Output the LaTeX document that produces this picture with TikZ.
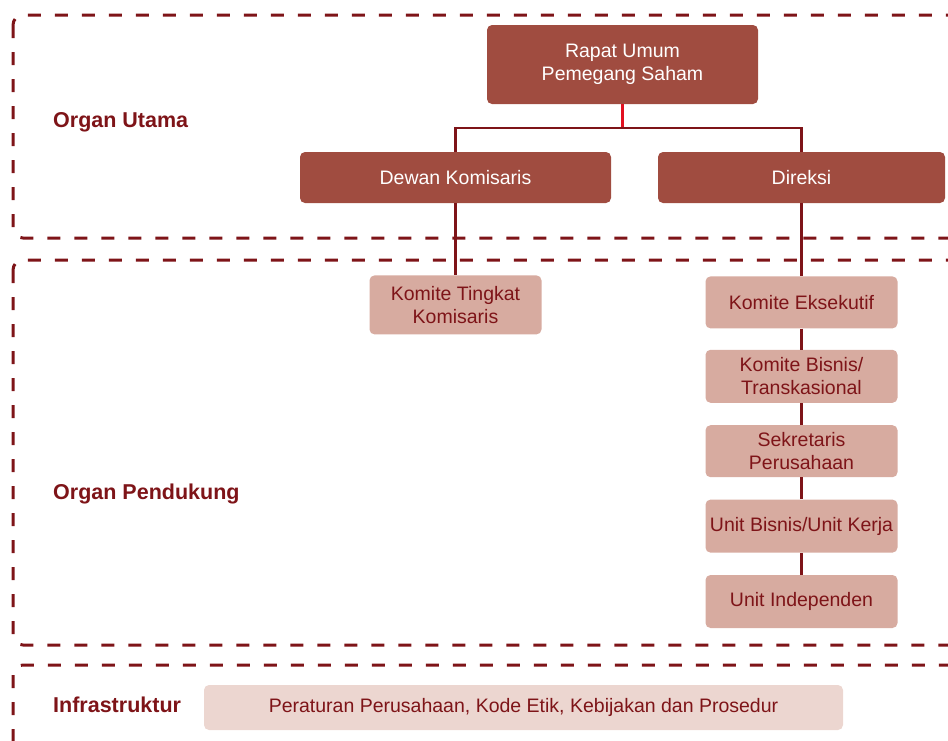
\documentclass[tikz,border=0pt]{standalone}
\usepackage{fontspec}
\setmainfont{Liberation Sans}
\usetikzlibrary{positioning}
\definecolor{orgdark}{RGB}{160,76,64}
\definecolor{orglight}{RGB}{215,171,160}
\definecolor{orgpale}{RGB}{236,214,208}
\definecolor{orgred}{RGB}{126,20,24}
\definecolor{linkred}{RGB}{226,16,32}
\tikzset{
  fig/.style={font=\fontsize{19.5}{23}\selectfont},
  mainbox/.style={fill=orgdark,text=white,rounded corners=5pt,minimum height=51pt,
                  align=center,inner sep=2pt},
  subbox/.style={fill=orglight,text=orgred,rounded corners=5pt,minimum width=192pt,
                 minimum height=53pt,align=center,inner sep=2pt},
  infbox/.style={fill=orgpale,text=orgred,rounded corners=5pt,minimum width=639pt,
                 minimum height=45pt,inner sep=2pt},
  grp/.style={draw=orgred,line width=3pt,dash pattern=on 13pt off 14pt,rounded corners=10pt},
  grplbl/.style={font=\fontsize{21.5}{25}\selectfont\bfseries,text=orgred,anchor=west,inner sep=0pt},
  ln/.style={draw=orgred,line width=2.2pt},
}

\begin{document}
\begin{tikzpicture}[fig,x=1pt,y=-1pt]
\clip (0,0) rectangle (948,740);

\draw[grp] (13,15) rectangle (990,238);
\draw[grp] (13,260) rectangle (990,645);
\draw[grp] (13,665) rectangle (990,790);

\node[grplbl] (lutama) at (53,122) {Organ Utama};
\node[grplbl] (lpend) at (53,494) {Organ Pendukung};
\node[grplbl] (linfra) at (53,705) {Infrastruktur};

\node[mainbox,minimum width=271pt,minimum height=79pt] (rups) at (622.5,64.5) {Rapat Umum\\Pemegang Saham};
\node[mainbox,minimum width=311pt] (dekom) at (455.5,177.5) {Dewan Komisaris};
\node[mainbox,minimum width=287pt] (direksi) at (801.5,177.5) {Direksi};

\node[subbox,minimum width=172pt,minimum height=59pt,below=72pt of dekom] (ktk) {Komite Tingkat\\Komisaris};
\node[subbox,minimum height=52pt,below=73pt of direksi] (kex) {Komite Eksekutif};
\node[subbox,below=21pt of kex] (kbt) {Komite Bisnis/\\Transkasional};
\node[subbox,minimum height=52pt,below=22pt of kbt] (sekper) {Sekretaris\\Perusahaan};
\node[subbox,below=22pt of sekper] (ubuk) {Unit Bisnis/Unit Kerja};
\node[subbox,below=22pt of ubuk] (uind) {Unit Independen};

\node[infbox] (infra) at (523.5,707.5) {Peraturan Perusahaan, Kode Etik, Kebijakan dan Prosedur};

\coordinate (jn) at (622.5,128);
\draw[ln,draw=linkred] (rups) -- (jn);
\draw[ln] (dekom) |- (jn) -| (direksi);
\draw[ln] (dekom) -- (ktk);
\draw[ln] (direksi) -- (kex) -- (kbt) -- (sekper) -- (ubuk) -- (uind);

\end{tikzpicture}
\end{document}
